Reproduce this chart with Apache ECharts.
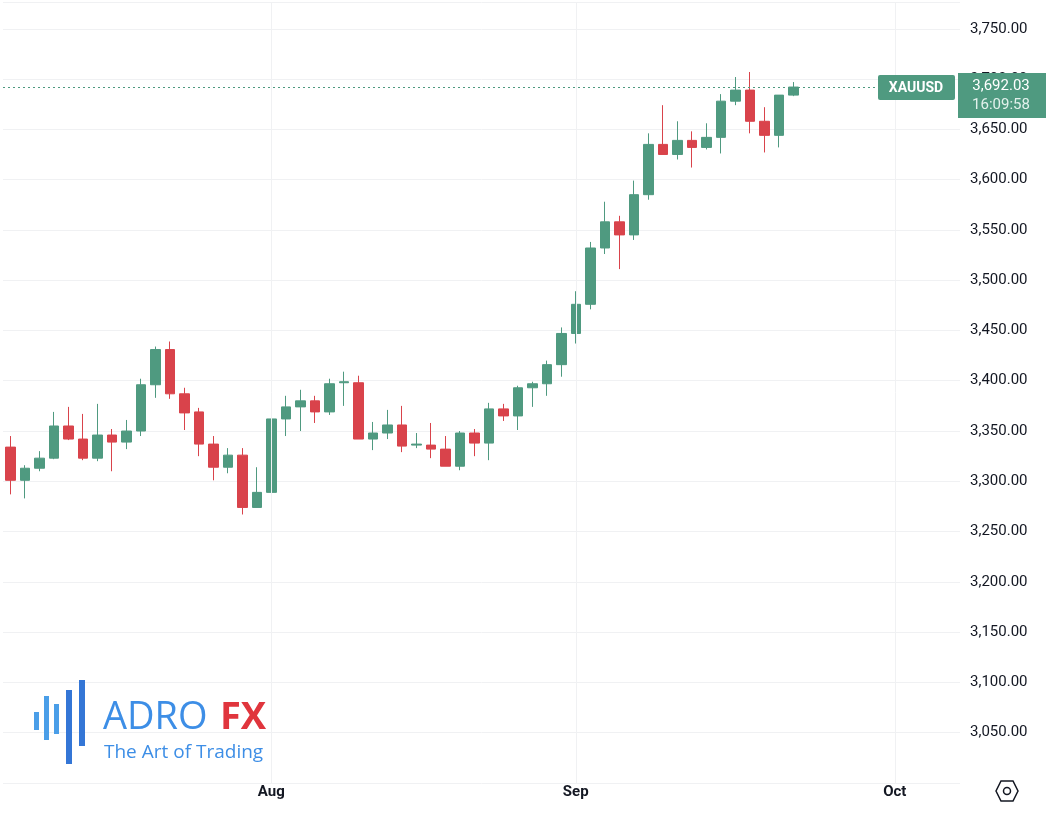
<!DOCTYPE html>
<html><head><meta charset="utf-8">
<script src="https://cdn.jsdelivr.net/npm/echarts@6/dist/echarts.min.js"></script>
<style>html,body{margin:0;padding:0;background:#fff}#c{width:1052px;height:814px}</style>
</head><body><div id="c"></div>
<script>
const opens  = [3334,3301,3313,3323,3355,3342,3323,3346,3339,3350,3396,3431,3387,3369,3337,3314,3326,3274,3289,3362,3374,3380,3369,3398,3398,3342,3348,3356,3336,3336,3332,3315,3348,3338,3372,3365,3393,3397,3416,3447,3476,3532,3558,3545,3585,3635,3625,3639,3632,3642,3678,3689,3658,3644,3684];
const closes = [3301,3313,3323,3355,3342,3323,3346,3339,3350,3396,3431,3387,3368,3337,3314,3326,3274,3289,3362,3374,3380,3369,3397,3399,3342,3348,3356,3335,3337,3332,3315,3348,3338,3372,3365,3393,3397,3416,3447,3476,3532,3558,3545,3585,3635,3625,3639,3632,3642,3678,3689,3658,3644,3684,3692.03];
const highs  = [3345,3316,3330,3369,3374,3367,3377,3352,3361,3402,3434,3439,3393,3373,3345,3333,3333,3314,3364,3385,3391,3385,3402,3409,3405,3359,3371,3375,3348,3358,3345,3350,3352,3378,3377,3395,3399,3420,3453,3489,3538,3578,3564,3599,3646,3674,3658,3648,3656,3685,3702,3707,3672,3684,3697];
const lows   = [3287,3283,3310,3322,3341,3321,3320,3310,3332,3345,3383,3382,3351,3325,3301,3308,3267,3274,3282,3345,3350,3358,3366,3375,3342,3331,3342,3329,3333,3323,3315,3311,3325,3321,3360,3351,3374,3385,3404,3437,3471,3526,3511,3540,3580,3625,3620,3612,3630,3626,3674,3646,3627,3632,3683];
const monthLabels = {18:'Aug',39:'Sep',61:'Oct'};
const nCats = 66;
const lastPrice = 3692.03;
const cats = Array.from({length:nCats},(_,i)=>String(i));
const data = opens.map((o,i)=>[o,closes[i],lows[i],highs[i]]);
const UP='#4f9a80', DN='#d9434b';
const chart = echarts.init(document.getElementById('c'));
chart.setOption({
  animation:false,
  grid:{left:3,top:2,width:957,height:781},
  xAxis:{type:'category',data:cats,boundaryGap:true,
    axisLine:{show:false},axisTick:{show:false},
    axisLabel:{interval:0,margin:2,color:'#131722',fontSize:15,fontWeight:'bold',fontFamily:'Roboto',
      formatter:(v,i)=>monthLabels[i]||''},
    splitLine:{show:false}},
  yAxis:{type:'value',position:'right',min:3000,max:3776.6,interval:50,
    axisLine:{show:false},axisTick:{show:false},
    axisLabel:{margin:10,color:'#131722',fontSize:15,fontFamily:'Roboto',
      formatter:v=>(v<3050||v>3750)?'':v.toLocaleString('en-US',{minimumFractionDigits:2})},
    splitLine:{lineStyle:{color:'#f0f1f3'}}},
  series:[{type:'candlestick',data:data,barWidth:10,
    itemStyle:{color:UP,color0:DN,borderColor:UP,borderColor0:DN},
    markLine:{symbol:'none',silent:true,label:{show:false},
      data:[
        {yAxis:lastPrice,lineStyle:{color:UP,type:[2,3],width:1,opacity:1}},
        ...Object.keys(monthLabels).map(k=>({xAxis:String(k),lineStyle:{color:'#f0f1f3',type:'solid',width:1}}))
      ]}}],
  graphic:{elements:[
    {type:'rect',z:100,shape:{x:878,y:75,width:77,height:25,r:2},style:{fill:UP}},
    {type:'text',z:101,x:916,y:88,style:{text:'XAUUSD',fill:'#ffffff',font:'bold 14px Roboto',align:'center',verticalAlign:'middle'}},
    {type:'rect',z:100,shape:{x:958,y:73,width:88,height:45},style:{fill:UP}},
    {type:'text',z:101,x:1001,y:86,style:{text:'3,692.03',fill:'#ffffff',font:'15px Roboto',align:'center',verticalAlign:'middle'}},
    {type:'text',z:101,x:1001,y:105,style:{text:'16:09:58',fill:'#e3f1ec',font:'15px Roboto',align:'center',verticalAlign:'middle'}},
    {type:'polygon',z:100,shape:{points:[[1001,781],[1013,781],[1018,791],[1013,801],[1001,801],[996,791]]},style:{fill:'none',stroke:'#131722',lineWidth:1.5}},
    {type:'circle',z:100,shape:{cx:1007,cy:791,r:3.5},style:{fill:'none',stroke:'#131722',lineWidth:1.5}},
    {type:'rect',z:100,shape:{x:34,y:712,width:5,height:18},style:{fill:'#4a9ee8'}},
    {type:'rect',z:100,shape:{x:44,y:696,width:5,height:44},style:{fill:'#4a9ee8'}},
    {type:'rect',z:100,shape:{x:54,y:704,width:5,height:30},style:{fill:'#4a9ee8'}},
    {type:'rect',z:100,shape:{x:66,y:690,width:6,height:74},style:{fill:'#3476d6'}},
    {type:'rect',z:100,shape:{x:79,y:680,width:6,height:66},style:{fill:'#3476d6'}},
    {type:'text',z:100,x:103,y:718,style:{text:'ADRO',fill:'#3d8ee6',font:'38px "Open Sans"',verticalAlign:'middle'}},
    {type:'text',z:100,x:220,y:718,style:{text:'FX',fill:'#e0353d',font:'bold 38px "Open Sans"',verticalAlign:'middle'}},
    {type:'text',z:100,x:104,y:753,style:{text:'The Art of Trading',fill:'#3d8ee6',font:'19px "Open Sans"',verticalAlign:'middle'}}
  ]}
});
</script></body></html>
